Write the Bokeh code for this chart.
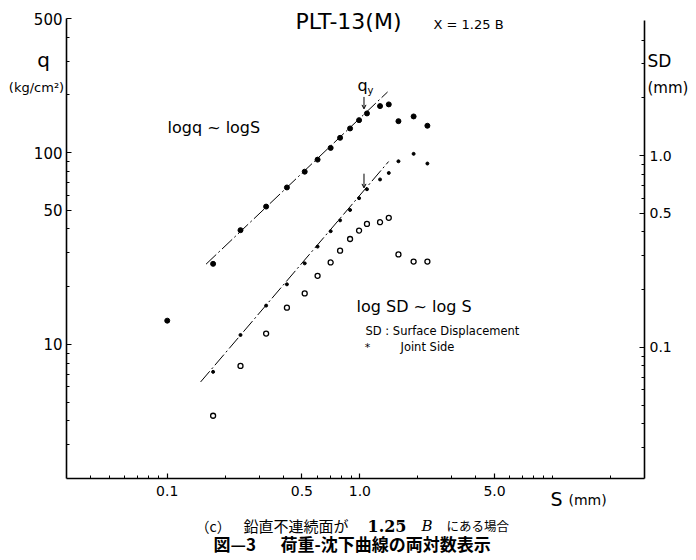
import math
from bokeh.plotting import figure
from bokeh.models import (Range1d, LogAxis, FixedTicker, Label, Arrow, OpenHead,
                          PrintfTickFormatter)
from bokeh.embed import file_html
from bokeh.resources import INLINE

# ---------------- data ----------------
S = [0.173, 0.240, 0.326, 0.418, 0.517, 0.603, 0.705, 0.789, 0.889, 0.990,
     1.088, 1.272, 1.412, 1.585, 1.900, 2.240]                     # settlement S (mm)
q = [26.3, 39.4, 52.3, 65.8, 79.5, 91.9, 105.8, 119.4, 133.6, 147.6,
     160.0, 174.7, 178.3, 145.8, 154.3, 138.0]                     # load q (kg/cm2)
S_first = [0.1]
q_first = [13.3]
sd_surface = [0.044, 0.080, 0.118, 0.161, 0.191, 0.236, 0.277, 0.319, 0.367, 0.406,
              0.440, 0.449, 0.473, 0.305, 0.280, 0.280]            # SD (mm), open circles
sd_joint = [0.0745, 0.116, 0.165, 0.213, 0.274, 0.335, 0.403, 0.459, 0.520, 0.599,
            0.667, 0.750, 0.811, 0.933, 1.020, 0.908]              # SD (mm), joint side
fit_q_S = [0.159, 1.392]
fit_q = [26.2, 207.0]
fit_sd_S = [0.149, 1.409]
fit_sd = [0.066, 0.930]
qy_S = 1.05
qy_arrow_q = [195.0, 169.0]
qy_arrow_sd = [0.804, 0.678]

x_ticks = [0.1, 0.5, 1.0, 5.0]
x_minor = [0.04, 0.05, 0.06, 0.07, 0.08, 0.09, 0.2, 0.3, 0.4, 0.6, 0.7, 0.8, 0.9,
           2, 3, 4, 6, 7, 8, 9, 10, 20]
y_ticks = [10, 50, 100, 500]
y_minor = [3, 4, 5, 6, 7, 8, 9, 20, 30, 40, 60, 70, 80, 90, 200, 300, 400]
y2_ticks = [0.1, 0.5, 1.0]
y2_minor = [0.03, 0.04, 0.05, 0.06, 0.07, 0.08, 0.09, 0.2, 0.3, 0.4, 0.6, 0.7, 0.8, 0.9, 2, 3, 4]

# axis extents
X_AX = (0.03, 30.0)
Y_AX = (2.0, 500.0)
Y2_AX = (0.0207, 5.06)

# ---------------- geometry (pixels of the picture) ----------------
W, H = 696, 560
AX_L, AX_R, AX_T, AX_B = 66, 644, 18, 478
Y2_ONE_PX = 155                     # where SD = 1.0 sits on the right axis
DEC_X = (AX_R - AX_L) / (math.log10(X_AX[1]) - math.log10(X_AX[0]))
DEC_Y = (AX_B - AX_T) / (math.log10(Y_AX[1]) - math.log10(Y_AX[0]))

x_lo = 10 ** (math.log10(X_AX[0]) - AX_L / DEC_X)
x_hi = 10 ** (math.log10(X_AX[0]) + (W - AX_L) / DEC_X)
y_hi = 10 ** (math.log10(Y_AX[1]) + AX_T / DEC_Y)
y_lo = 10 ** (math.log10(Y_AX[1]) - (H - AX_T) / DEC_Y)
y2_hi = 10 ** (Y2_ONE_PX / DEC_Y)
y2_lo = 10 ** (-(H - Y2_ONE_PX) / DEC_Y)

def px(xp):
    return 10 ** (math.log10(x_lo) + xp / DEC_X)

def py(yp):
    return 10 ** (math.log10(y_hi) - yp / DEC_Y)

FONT = "DejaVu Sans"
CJK = "Noto Sans CJK JP"
SERIF = "DejaVu Serif"

p = figure(width=W, height=H, x_axis_type="log", y_axis_type="log",
           x_range=Range1d(x_lo, x_hi), y_range=Range1d(y_lo, y_hi),
           output_backend="svg", toolbar_location=None,
           min_border=0)
p.outline_line_color = None
p.xgrid.visible = False
p.ygrid.visible = False
p.background_fill_color = "white"
p.border_fill_color = "white"
p.extra_y_ranges = {"sd": Range1d(y2_lo, y2_hi)}

def style_axis(ax, size):
    ax.axis_line_width = 1.6
    ax.axis_line_color = "black"
    ax.major_tick_in = 5
    ax.major_tick_out = 0
    ax.minor_tick_in = 3
    ax.minor_tick_out = 0
    ax.major_tick_line_width = 1.2
    ax.minor_tick_line_width = 1.0
    ax.major_tick_line_color = "black"
    ax.minor_tick_line_color = "black"
    ax.major_label_text_font = FONT
    ax.major_label_text_font_size = size
    ax.major_label_text_color = "black"

xa = p.xaxis[0]
xa.ticker = FixedTicker(ticks=x_ticks, minor_ticks=x_minor)
xa.formatter = PrintfTickFormatter(format="%.1f")
xa.fixed_location = Y_AX[0]
xa.bounds = X_AX
style_axis(xa, "14px")
xa.major_label_standoff = 7

ya = p.yaxis[0]
ya.ticker = FixedTicker(ticks=y_ticks, minor_ticks=y_minor)
ya.formatter = PrintfTickFormatter(format="%d")
ya.fixed_location = X_AX[0]
ya.bounds = Y_AX
style_axis(ya, "15px")
ya.major_label_standoff = 4

ra = LogAxis(y_range_name="sd", ticker=FixedTicker(ticks=y2_ticks, minor_ticks=y2_minor),
             formatter=PrintfTickFormatter(format="%.1f"),
             fixed_location=X_AX[1], bounds=Y2_AX)
style_axis(ra, "14px")
ra.major_label_standoff = 5
p.add_layout(ra, "right")

# ---------------- fitted lines ----------------
p.line(fit_q_S, fit_q, line_color="black", line_width=1, line_dash="14 3 2 3")
p.line(fit_sd_S, fit_sd, line_color="black", line_width=1, line_dash="14 3 2 3",
       y_range_name="sd")

# ---------------- points ----------------
p.scatter(S, q, marker="circle", size=5, fill_color="black", line_color="black")
p.scatter(S_first, q_first, marker="circle", size=5, fill_color="black", line_color="black")
p.scatter(S, sd_surface, marker="circle", size=5, fill_color="white", line_color="black",
          line_width=1.3, y_range_name="sd")
p.scatter(S, sd_joint, marker="circle", size=3, fill_color="black", line_color="black",
          y_range_name="sd")

# ---------------- q_y arrows ----------------
p.add_layout(Arrow(end=OpenHead(size=4, line_width=1), x_start=qy_S, y_start=qy_arrow_q[0],
                   x_end=qy_S, y_end=qy_arrow_q[1], line_width=1))
p.add_layout(Arrow(end=OpenHead(size=4, line_width=1), x_start=qy_S, y_start=qy_arrow_sd[0],
                   x_end=qy_S, y_end=qy_arrow_sd[1], line_width=1, y_range_name="sd"))

def lab(text, xp, yp, size, align="left", baseline="middle", style="normal", font=FONT):
    p.add_layout(Label(x=px(xp), y=py(yp), text=text, text_font=font,
                       text_font_size=size, text_align=align, text_baseline=baseline,
                       text_font_style=style, text_color="black"))

lab("PLT-13(M)", 295, 21, "22px")
lab("X = 1.25 B", 433, 24, "13px")
lab("q", 43, 59, "20px", align="center", baseline="alphabetic")
lab("(kg/cm²)", 36, 87, "13px", align="center")
lab("SD", 647, 60, "17px")
lab("(mm)", 647, 87, "15px")
lab("logq ~ logS", 167, 127, "16px")
lab("q", 362, 85, "16px", align="center", baseline="alphabetic")
lab("y", 367, 90, "10px")
lab("log SD ~ log S", 356, 306, "16px")
lab("SD : Surface Displacement", 365, 330, "11.5px")
lab("*", 367, 347, "11px", align="center")
lab("Joint Side", 400, 346, "11.5px")
lab("S", 550, 498, "19px")
lab("(mm)", 568, 499, "14px")

# captions below the chart
lab("（c）", 195, 525, "14px", font=CJK)
lab("鉛直不連続面が", 243, 525, "15px", font=CJK)
lab("1.25", 367, 525, "16px", style="bold", font=SERIF)
lab("B", 421, 525, "15px", style="italic", font=SERIF)
lab("にある場合", 446, 525, "12.5px", font=CJK)
lab("図—3", 213, 543, "17px", style="bold", font=CJK)
lab("荷重-沈下曲線の両対数表示", 280, 543, "17px", style="bold", font=CJK)

open("out.html", "w").write(file_html(p, INLINE))
